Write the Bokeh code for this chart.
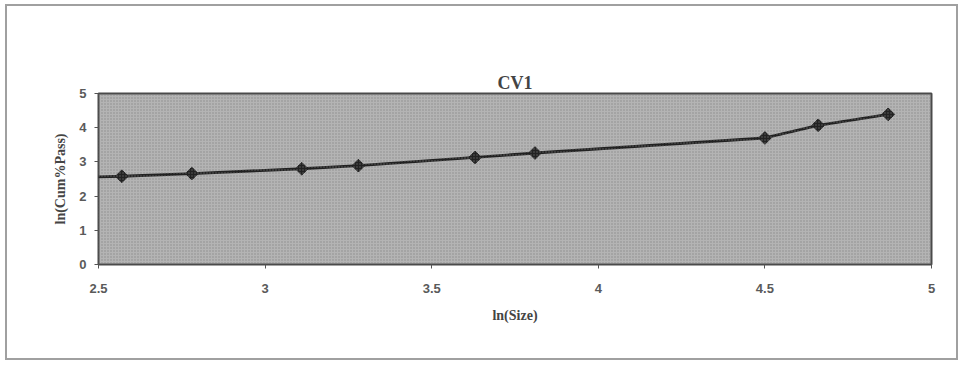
from bokeh.plotting import figure
from bokeh.models import Range1d, FixedTicker, BoxAnnotation, Title
from bokeh.embed import file_html
from bokeh.resources import INLINE

# Sieve data: ln of particle size vs ln of cumulative percent passing
ln_size = [2.30, 2.57, 2.78, 3.11, 3.28, 3.63, 3.81, 4.50, 4.66, 4.87]
ln_cum_pass = [2.52, 2.58, 2.66, 2.80, 2.89, 3.13, 3.26, 3.70, 4.07, 4.39]

x_ticks = [2.5, 3, 3.5, 4, 4.5, 5]
y_ticks = [0, 1, 2, 3, 4, 5]

p = figure(
    width=953, height=356,
    x_range=Range1d(2.5, 5), y_range=Range1d(0, 5),
    output_backend="svg", toolbar_location=None,
    min_border_left=91, min_border_right=29,
    min_border_top=87, min_border_bottom=98,
)
# grey border framing the whole chart area
p.margin = (4, 1, 1, 5)
p.styles = {"border": "2px solid #a0a0a0"}

p.background_fill_color = "#b4b4b4"
p.border_fill_color = "white"
p.outline_line_color = "#4a4a4a"
p.outline_line_width = 2

# grainy shading inside the plot area
grain = BoxAnnotation(fill_alpha=0, line_alpha=0,
                      hatch_pattern="dot", hatch_color="#7a7a7a",
                      hatch_scale=3, hatch_weight=1.3, hatch_alpha=0.7)
p.add_layout(grain)

p.grid.visible = False

p.xaxis.ticker = FixedTicker(ticks=x_ticks)
p.yaxis.ticker = FixedTicker(ticks=y_ticks)
for ax in (p.xaxis[0], p.yaxis[0]):
    ax.axis_line_color = None
    ax.major_tick_line_color = "#555555"
    ax.major_tick_out = 4
    ax.major_tick_in = 0
    ax.minor_tick_line_color = None
    ax.major_label_text_font = "Liberation Sans"
    ax.major_label_text_font_style = "bold"
    ax.major_label_text_font_size = "13px"
    ax.major_label_text_color = "#5a5a5a"
    ax.axis_label_text_font = "Liberation Serif"
    ax.axis_label_text_font_style = "bold"
    ax.axis_label_text_font_size = "14px"
    ax.axis_label_text_color = "#444444"

p.xaxis.axis_label = "ln(Size)"
p.yaxis.axis_label = "ln(Cum%Pass)"
p.xaxis.major_label_standoff = 15
p.xaxis.axis_label_standoff = 12
p.yaxis.major_label_standoff = 8
p.yaxis.axis_label_standoff = 8

# the title sits on top, with a blank band between it and the plot area
heading = Title(text="CV1", align="center", vertical_align="middle",
                text_font="Liberation Serif", text_font_size="18px",
                text_font_style="bold", text_color="#444444", standoff=0)
p.add_layout(heading, "above")
gap = Title(text=".", text_font_size="20px", text_alpha=0, standoff=20)
p.add_layout(gap, "above")

p.line(ln_size, ln_cum_pass, line_color="#222222", line_width=2.8)
p.scatter(ln_size, ln_cum_pass, marker="square", angle=0.785398, size=9,
          fill_color="#222222", line_color="#222222")

open("out.html", "w").write(file_html(p, INLINE))
